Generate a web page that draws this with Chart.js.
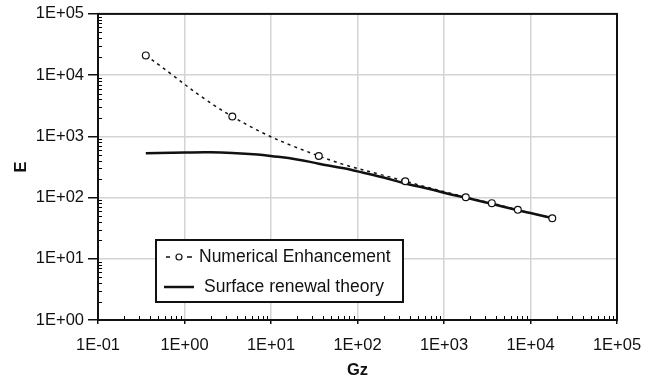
<!DOCTYPE html>
<html lang="en">
<head>
  <meta charset="UTF-8" />
  <title>E vs Gz</title>
  <script src="https://cdn.jsdelivr.net/npm/chart.js"></script>
  <style>
    body { margin: 0; background: #fff; }
    canvas { display: block; }
  </style>
</head>
<body>
<canvas id="chart" width="655" height="382"></canvas>
<script>
  // Numerical enhancement (markers + dotted line)
  const numGz = [0.357, 3.57, 35.7, 357, 1786, 3571, 7143, 17857];
  const numE = [21000, 2110, 478, 185, 101, 81, 63, 46];

  // Surface renewal theory (solid line)
  const srtGz = [0.357, 0.7, 1, 2, 3.57, 7, 10, 20, 35.7, 70, 100, 200, 357, 700, 1000, 1786, 3571, 7143, 10000, 17857];
  const srtE = [527, 540, 545, 548, 535, 505, 478, 420, 358, 300, 268, 212, 170, 137, 120, 99, 79, 62, 56, 46];

  const xTicks = [0.1, 1, 10, 100, 1000, 10000, 100000];
  const xTickLabels = ["1E-01", "1E+00", "1E+01", "1E+02", "1E+03", "1E+04", "1E+05"];
  const yTicks = [1, 10, 100, 1000, 10000, 100000];
  const yTickLabels = ["1E+00", "1E+01", "1E+02", "1E+03", "1E+04", "1E+05"];

  const FONT = "'Liberation Sans', Arial, sans-serif";

  function toXY(xs, ys) {
    return xs.map((x, i) => ({ x: x, y: ys[i] }));
  }

  // minor ticks drawn inside the plot, plus the frame
  const frameAndMinor = {
    id: "frameAndMinor",
    afterDraw(chart) {
      const c = chart.ctx, a = chart.chartArea;
      const xs = chart.scales.x, ys = chart.scales.y;
      c.save();
      c.strokeStyle = "#000";
      c.lineWidth = 1;
      c.beginPath();
      for (let k = -1; k < 5; k++) {
        for (let m = 2; m < 10; m++) {
          const px = Math.round(xs.getPixelForValue(m * Math.pow(10, k))) + 0.5;
          c.moveTo(px, a.bottom);
          c.lineTo(px, a.bottom - 4);
        }
      }
      for (let k = 0; k < 5; k++) {
        for (let m = 2; m < 10; m++) {
          const py = Math.round(ys.getPixelForValue(m * Math.pow(10, k))) + 0.5;
          c.moveTo(a.left, py);
          c.lineTo(a.left + 4, py);
        }
      }
      c.stroke();
      c.lineWidth = 2;
      c.strokeStyle = "#111";
      c.strokeRect(a.left, a.top, a.right - a.left, a.bottom - a.top);
      c.restore();
    }
  };

  // boxed legend inside the plot area
  const boxLegend = {
    id: "boxLegend",
    afterDraw(chart) {
      const c = chart.ctx, a = chart.chartArea;
      const bx = a.left + 58, by = 240, bw = 247, bh = 62;
      c.save();
      c.fillStyle = "#fff";
      c.fillRect(bx, by, bw, bh);
      c.strokeStyle = "#111";
      c.lineWidth = 2;
      c.strokeRect(bx, by, bw, bh);

      const ds = chart.data.datasets;
      c.font = "17.5px " + FONT;
      c.fillStyle = "#111";
      c.textBaseline = "middle";

      // row 1: dotted with marker
      let y = by + 17;
      c.strokeStyle = "#111";
      c.lineWidth = 1.5;
      c.beginPath();
      c.moveTo(bx + 10, y); c.lineTo(bx + 14, y);
      c.moveTo(bx + 31, y); c.lineTo(bx + 36, y);
      c.stroke();
      c.beginPath();
      c.lineWidth = 1.2;
      c.arc(bx + 23, y, 3, 0, Math.PI * 2);
      c.fillStyle = "#fff";
      c.fill();
      c.stroke();
      c.fillStyle = "#111";
      c.fillText(ds[0].label, bx + 43, y);

      // row 2: solid line
      y = by + 47;
      c.lineWidth = 2.5;
      c.beginPath();
      c.moveTo(bx + 8, y); c.lineTo(bx + 38, y);
      c.stroke();
      c.fillText(ds[1].label, bx + 48, y);
      c.restore();
    }
  };

  const ctx = document.getElementById("chart").getContext("2d");

  new Chart(ctx, {
    type: "line",
    data: {
      datasets: [
        {
          label: "Numerical Enhancement",
          data: toXY(numGz, numE),
          borderColor: "#111",
          borderWidth: 1.5,
          borderDash: [3, 4],
          tension: 0.4,
          pointRadius: 3.4,
          pointBorderWidth: 1.2,
          pointBackgroundColor: "#fff",
          pointBorderColor: "#111",
          fill: false
        },
        {
          label: "Surface renewal theory",
          data: toXY(srtGz, srtE),
          borderColor: "#111",
          borderWidth: 2.5,
          tension: 0.4,
          pointRadius: 0,
          fill: false
        }
      ]
    },
    options: {
      responsive: false,
      animation: false,
      layout: { padding: { left: 12, top: 13, right: 38, bottom: 0 } },
      plugins: {
        legend: { display: false },
        tooltip: { enabled: false }
      },
      scales: {
        x: {
          type: "logarithmic",
          min: 0.1,
          max: 100000,
          afterBuildTicks: (s) => { s.ticks = xTicks.map(v => ({ value: v })); },
          afterFit: (s) => { s.height = 62; },
          ticks: {
            color: "#111",
            font: { family: FONT, size: 16.5 },
            padding: 12,
            maxRotation: 0,
            autoSkip: false,
            callback: (v, i) => xTickLabels[i]
          },
          grid: { color: "#d4d4d4", lineWidth: 1.5, tickColor: "#111", tickLength: 4, drawTicks: true },
          border: { color: "#111", width: 1.5 },
          title: { display: true, text: "Gz", color: "#111", font: { family: FONT, size: 16.5, weight: "bold" }, padding: { top: 0, bottom: 2 } }
        },
        y: {
          type: "logarithmic",
          min: 1,
          max: 100000,
          afterBuildTicks: (s) => { s.ticks = yTicks.map(v => ({ value: v })); },
          afterFit: (s) => { s.width = 86; },
          ticks: {
            color: "#111",
            font: { family: FONT, size: 16.5 },
            padding: 4,
            autoSkip: false,
            callback: (v, i) => yTickLabels[i]
          },
          grid: { color: "#d4d4d4", lineWidth: 1.5, tickColor: "#111", tickLength: 10, drawTicks: true },
          border: { color: "#111", width: 1.5 },
          title: { display: true, text: "E", color: "#111", font: { family: FONT, size: 16.5, weight: "bold" }, padding: 0 }
        }
      }
    },
    plugins: [frameAndMinor, boxLegend]
  });
</script>
</body>
</html>
